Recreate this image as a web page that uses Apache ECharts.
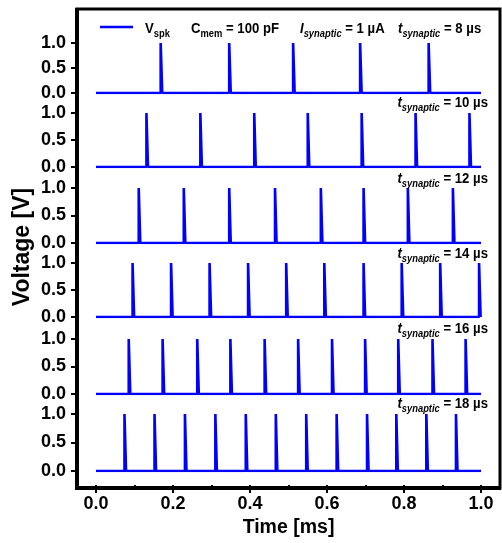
<!DOCTYPE html>
<html>
<head>
<meta charset="utf-8">
<script src="https://cdn.jsdelivr.net/npm/echarts@6/dist/echarts.min.js"></script>
<style>
  html, body { margin: 0; padding: 0; background: #fff; }
  #chart { width: 502px; height: 543px; }
</style>
</head>
<body>
<div id="chart"></div>
<script>
// spike times (ms)
const spikes8 = [0.168, 0.346, 0.512, 0.686, 0.864]
const spikes10 = [0.131, 0.271, 0.411, 0.550, 0.690, 0.830, 0.970]
const spikes12 = [0.111, 0.228, 0.346, 0.465, 0.584, 0.695, 0.810, 0.927]
const spikes14 = [0.095, 0.195, 0.295, 0.395, 0.494, 0.593, 0.695, 0.794, 0.894, 0.995]
const spikes16 = [0.085, 0.173, 0.263, 0.349, 0.438, 0.525, 0.613, 0.699, 0.785, 0.874, 0.960]
const spikes18 = [0.074, 0.152, 0.231, 0.310, 0.389, 0.467, 0.546, 0.625, 0.704, 0.780, 0.858, 0.935]
const tSynaptic = ['8', '10', '12', '14', '16', '18']
const xTicks = [0, 0.2, 0.4, 0.6, 0.8, 1.0]
const yTicks = [0, 0.5, 1.0]

const trains = [spikes8, spikes10, spikes12, spikes14, spikes16, spikes18]
const font = '"Liberation Sans", Arial, sans-serif'
const blue = '#0000ff'
const pulseWidth = 0.004
const narrow = 0.85

// plot frame and where 0 / 1 ms fall in pixels
const frameL = 77, frameR = 501, x0 = 96, x1 = 481
const pxPerMs = x1 - x0
const xMin = -(x0 - frameL) / pxPerMs
const xMax = 1 + (frameR - x1) / pxPerMs

// panel placement: top of 1.0 line and height to 0.0 line
const panels = [
  { top: 43, height: 50 },
  { top: 113, height: 54 },
  { top: 188, height: 55 },
  { top: 263, height: 54 },
  { top: 339, height: 55 },
  { top: 414, height: 57 }
]
const labelY = [0, 103, 179, 254, 329, 404]

function pulseTrain(times) {
  const pts = [[0, 0]]
  times.forEach(t => {
    pts.push([t, 0], [t, 1], [t + pulseWidth, 1], [t + pulseWidth, 0])
  })
  pts.push([1, 0])
  return pts
}

const chart = echarts.init(document.getElementById('chart'), null, { renderer: 'canvas' })

const grid = panels.map(p => ({ left: frameL, width: frameR - frameL, top: p.top, height: p.height }))
grid.push({ left: x0, width: pxPerMs, top: 9, bottom: 55 })

const xAxis = panels.map((p, i) => ({
  gridIndex: i, type: 'value', min: xMin, max: xMax, show: false
}))
xAxis.push({
  gridIndex: 6,
  type: 'value',
  min: xTicks[0],
  max: xTicks[xTicks.length - 1],
  interval: 0.2,
  axisLine: { show: false, onZero: false },
  axisTick: { show: true, length: 8, lineStyle: { color: '#000', width: 2 } },
  minorTick: { show: true, splitNumber: 2, length: 5, lineStyle: { color: '#000', width: 2 } },
  splitLine: { show: false },
  axisLabel: {
    margin: 10, color: '#000', fontSize: 18, fontWeight: 'bold', fontFamily: font,
    formatter: v => v.toFixed(1)
  },
  name: 'Time [ms]',
  nameLocation: 'middle',
  nameGap: 31,
  nameTextStyle: { color: '#000', fontSize: 19.5, fontWeight: 'bold', fontFamily: font }
})

const yAxis = panels.map((p, i) => ({
  gridIndex: i,
  type: 'value',
  min: yTicks[0],
  max: yTicks[yTicks.length - 1],
  interval: 0.5,
  axisLine: { show: false, onZero: false },
  axisTick: { show: true, length: 6, lineStyle: { color: '#000', width: 2 } },
  splitLine: { show: false },
  axisLabel: {
    margin: 11, color: '#000', fontSize: 18, fontWeight: 'bold', fontFamily: font,
    formatter: v => v.toFixed(1)
  }
}))
yAxis.push({ gridIndex: 6, type: 'value', min: 0, max: 1, show: false })

const series = trains.map((times, i) => ({
  name: 'V_spk',
  type: 'line',
  xAxisIndex: i,
  yAxisIndex: i,
  data: pulseTrain(times),
  showSymbol: false,
  symbol: 'none',
  animation: false,
  lineStyle: { color: blue, width: 2.6 }
}))

const richBase = {
  a: { fontSize: 15.5, fontWeight: 'bold', fontFamily: font, fill: '#000' },
  ai: { fontSize: 15.5, fontWeight: 'bold', fontStyle: 'italic', fontFamily: font, fill: '#000' },
  b: { fontSize: 11, fontWeight: 'bold', fontFamily: font, fill: '#000', padding: [10, 0, 0, 0] },
  bi: { fontSize: 11, fontWeight: 'bold', fontStyle: 'italic', fontFamily: font, fill: '#000', padding: [10, 0, 0, 0] }
}

function label(x, y, text, align) {
  return {
    type: 'text', x: x, y: y, z: 10, scaleX: narrow,
    style: { text: text, rich: richBase, align: align || 'left', verticalAlign: 'middle' }
  }
}

const graphic = [
  // frame
  { type: 'rect', z: 5, shape: { x: frameL, y: 9, width: frameR - frameL - 1, height: 479 },
    style: { fill: 'none', stroke: '#000', lineWidth: 3 } },
  { type: 'line', z: 5, shape: { x1: frameL, y1: 8, x2: frameL, y2: 489 }, style: { stroke: '#000', lineWidth: 4 } },
  { type: 'line', z: 5, shape: { x1: 75, y1: 488, x2: frameR, y2: 488 }, style: { stroke: '#000', lineWidth: 4 } },
  // legend sample
  { type: 'line', z: 10, shape: { x1: 100, y1: 27, x2: 133, y2: 27 }, style: { stroke: blue, lineWidth: 2.5 } },
  label(145, 29, '{a|V}{b|spk}'),
  label(191, 29, '{a|C}{b|mem}{a| = 100 pF}'),
  label(300, 29, '{ai|I}{bi|synaptic}{a| = 1 µA}'),
  label(398, 29, '{ai|t}{bi|synaptic}{a| = ' + tSynaptic[0] + ' µs}'),
  {
    type: 'text', x: 23, y: 247, rotation: Math.PI / 2, z: 10,
    style: { text: 'Voltage [V]', fontSize: 23, fontWeight: 'bold', fontFamily: font, fill: '#000',
      align: 'center', verticalAlign: 'middle' }
  }
]
for (let i = 1; i < tSynaptic.length; i++) {
  graphic.push(label(488, labelY[i], '{ai|t}{bi|synaptic}{a| = ' + tSynaptic[i] + ' µs}', 'right'))
}

chart.setOption({
  animation: false,
  backgroundColor: '#fff',
  grid: grid,
  xAxis: xAxis,
  yAxis: yAxis,
  series: series,
  graphic: graphic
})
</script>
</body>
</html>
